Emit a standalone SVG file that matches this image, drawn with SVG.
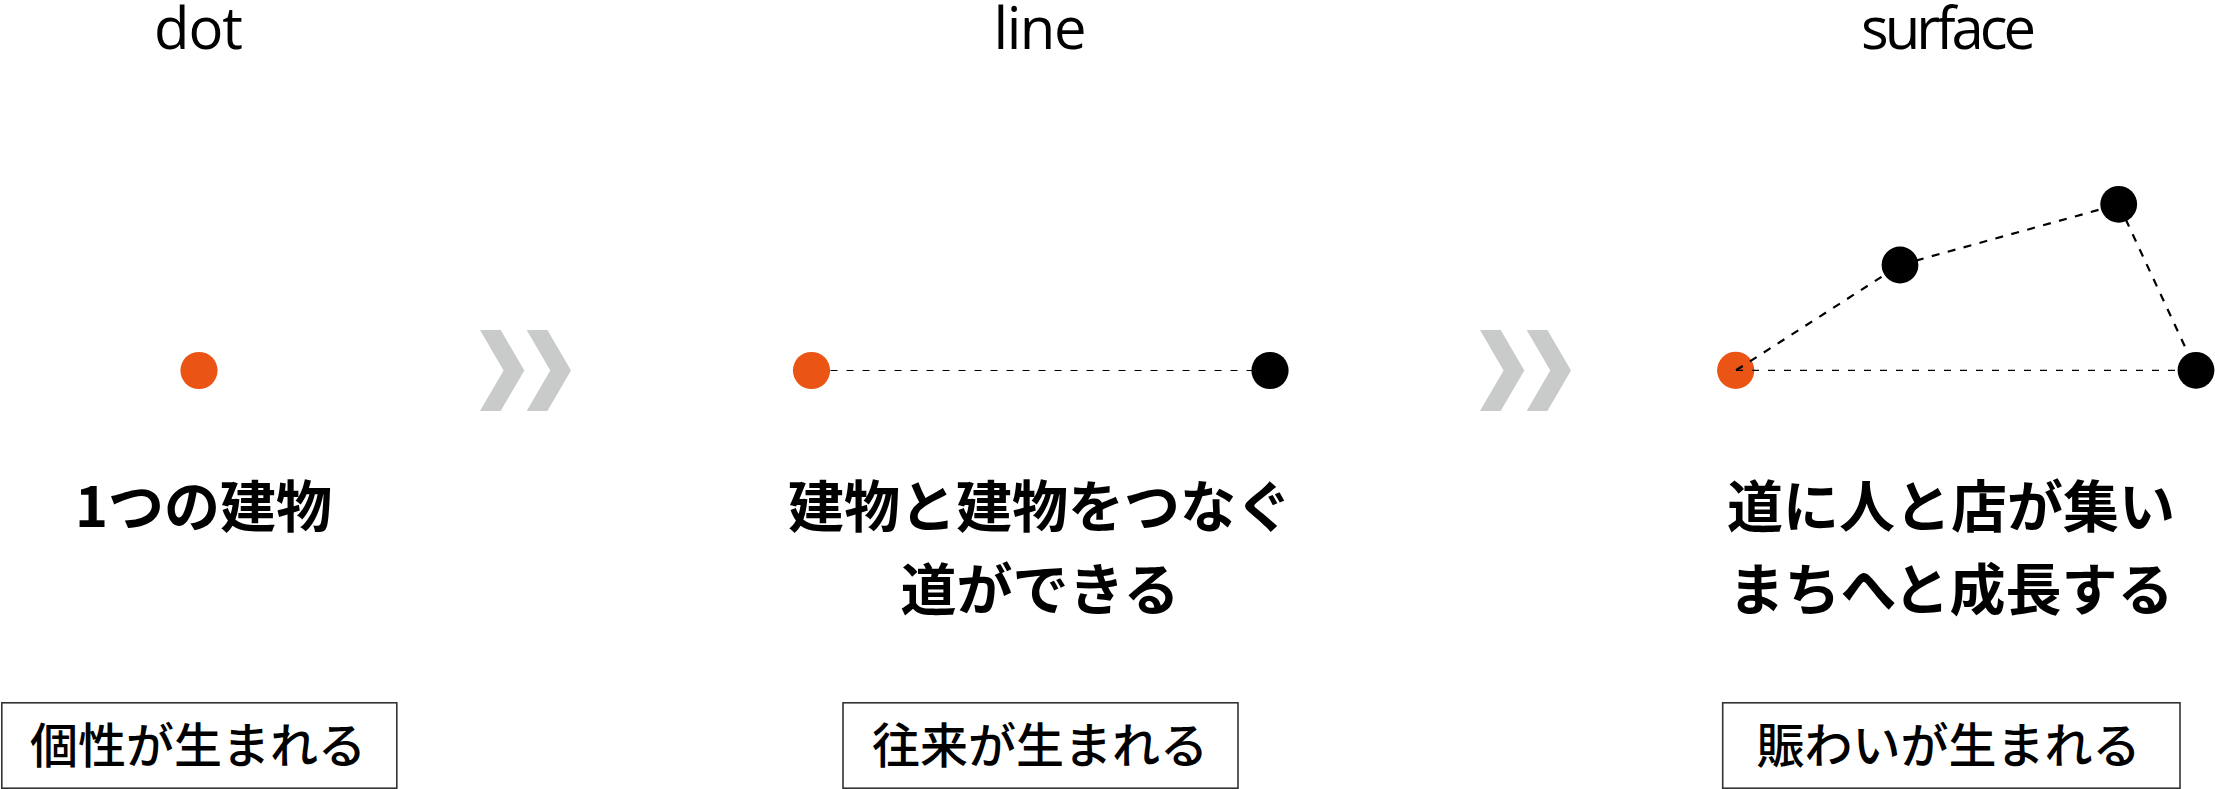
<svg xmlns="http://www.w3.org/2000/svg" width="2215" height="789" viewBox="0 0 2215 789">
<style>
.hdr{font-family:"Open Sans","Noto Sans","DejaVu Sans",sans-serif;font-size:58px;fill:#000;text-anchor:middle}
.main{font-family:"Noto Sans CJK JP","Noto Sans CJK SC",sans-serif;font-size:56px;font-weight:700;fill:#000;text-anchor:middle}
.sub{font-family:"Noto Sans CJK JP","Noto Sans CJK SC",sans-serif;font-size:48px;font-weight:500;fill:#000;text-anchor:middle}
.box{fill:#fff;stroke:#333;stroke-width:1.6}
.chev{fill:#c9caca}
.org{fill:#ea5516}
.blk{fill:#000}
.thin{stroke:#000;stroke-width:1.2;stroke-dasharray:7 9;fill:none}
.thick{stroke:#000;stroke-width:2.2;stroke-dasharray:8 8.5;fill:none}
</style>
<rect width="2215" height="789" fill="#fff"/>

<g id="headers">
<text class="hdr" x="198.5" y="49" textLength="89" lengthAdjust="spacing">dot</text>
<text class="hdr" x="1040" y="49" textLength="93" lengthAdjust="spacing">line</text>
<text class="hdr" x="1948.5" y="49" textLength="175" lengthAdjust="spacing">surface</text>
</g>

<g id="arrows">
<polygon class="chev" points="480,330 500.7,330 524.3,370.5 500.7,411 480,411 503.6,370.5"/>
<polygon class="chev" points="526.7,330 547.4,330 571,370.5 547.4,411 526.7,411 550.3,370.5"/>
<polygon class="chev" points="1480,330 1500.7,330 1524.3,370.5 1500.7,411 1480,411 1503.6,370.5"/>
<polygon class="chev" points="1526.7,330 1547.4,330 1571,370.5 1547.4,411 1526.7,411 1550.3,370.5"/>
</g>

<g id="node-dot-building">
<circle class="org" cx="199" cy="370.5" r="18.6"/>
</g>
<g id="node-line-start">
<circle class="org" cx="811.5" cy="370.5" r="18.6"/>
</g>
<g id="node-surface-start">
<circle class="org" cx="1735.7" cy="370.3" r="18.6"/>
</g>

<g id="connectors">
<line class="thin" x1="830.5" y1="370.5" x2="1262" y2="370.5"/>
<line class="thin" x1="1736" y1="370.3" x2="2190" y2="370.3"/>
<line class="thick" x1="1736" y1="370.3" x2="1900" y2="265"/>
<line class="thick" x1="1900" y1="265" x2="2118.7" y2="204.3"/>
<line class="thick" x1="2118.7" y1="204.3" x2="2196" y2="370.3"/>
</g>

<g id="node-line-end">
<circle class="blk" cx="1270" cy="370.5" r="18.6"/>
</g>
<g id="node-surface-b1">
<circle class="blk" cx="1900" cy="265" r="18.4"/>
</g>
<g id="node-surface-b2">
<circle class="blk" cx="2118.7" cy="204.3" r="18.4"/>
</g>
<g id="node-surface-b3">
<circle class="blk" cx="2196" cy="370.3" r="18.4"/>
</g>

<g id="captions">
<text class="main" x="203.5" y="527">1つの建物</text>
<text class="main" x="1040" y="527">建物と建物をつなぐ</text>
<text class="main" x="1040" y="609.5">道ができる</text>
<text class="main" x="1951" y="527">道に人と店が集い</text>
<text class="main" x="1951" y="609.5">まちへと成長する</text>
</g>

<g id="box-dot">
<rect class="box" x="1.8" y="702.8" width="395" height="85.4"/>
<text class="sub" x="198" y="763">個性が生まれる</text>
</g>
<g id="box-line">
<rect class="box" x="843" y="702.8" width="395" height="85.4"/>
<text class="sub" x="1040" y="763">往来が生まれる</text>
</g>
<g id="box-surface">
<rect class="box" x="1722.7" y="702.8" width="457.3" height="85.4"/>
<text class="sub" x="1948.5" y="763">賑わいが生まれる</text>
</g>
</svg>
